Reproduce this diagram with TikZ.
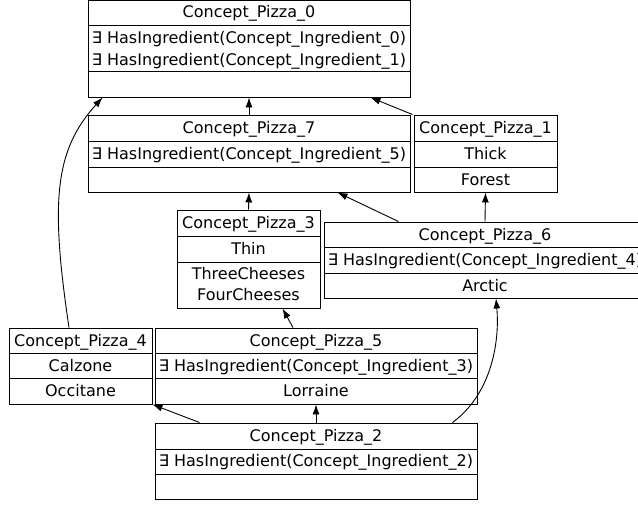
\documentclass[tikz,border=0pt]{standalone}
\usepackage{fontspec}
\setmainfont{DejaVu Sans}
\usetikzlibrary{arrows.meta}
\tikzset{record/.style={draw, rectangle, inner sep=0pt, line width=0.9pt}}
\tikzset{field/.style={inner sep=0pt, anchor=base, font=\fontsize{16}{19}\selectfont}}
\tikzset{rowline/.style={line width=0.9pt}}
\tikzset{isa/.style={line width=0.9pt, -{Latex[length=10pt,width=7pt]}}}

\begin{document}
\begin{tikzpicture}[x=1pt, y=-1pt]
  \useasboundingbox (0,0) rectangle (638,504);

  % Concept_Pizza_0
  \draw node[record, minimum width=322pt, minimum height=96.5pt] (p0) at (249,48.75) {};
  \draw node[field] (p0t) at (249,17.5) {Concept\_Pizza\_0};
  \draw node[field] (p0a) at (249,43.5) {∃ HasIngredient(Concept\_Ingredient\_0)};
  \draw node[field] (p0b) at (249,65.5) {∃ HasIngredient(Concept\_Ingredient\_1)};
  \draw[rowline] (p0.west |- 0,25) -- (p0.east |- 0,25);
  \draw[rowline] (p0.west |- 0,71) -- (p0.east |- 0,71);

  % Concept_Pizza_7
  \draw node[record, minimum width=322pt, minimum height=77pt] (p7) at (249,153.5) {};
  \draw node[field] (p7t) at (249,133) {Concept\_Pizza\_7};
  \draw node[field] (p7a) at (249,159) {∃ HasIngredient(Concept\_Ingredient\_5)};
  \draw[rowline] (p7.west |- 0,141) -- (p7.east |- 0,141);
  \draw[rowline] (p7.west |- 0,167) -- (p7.east |- 0,167);

  % Concept_Pizza_1
  \draw node[record, minimum width=143pt, minimum height=77pt] (p1) at (485.5,153.5) {};
  \draw node[field] (p1t) at (485.5,133) {Concept\_Pizza\_1};
  \draw node[field] (p1a) at (485.5,159) {Thick};
  \draw node[field] (p1b) at (485.5,185) {Forest};
  \draw[rowline] (p1.west |- 0,141) -- (p1.east |- 0,141);
  \draw[rowline] (p1.west |- 0,167) -- (p1.east |- 0,167);

  % Concept_Pizza_3
  \draw node[record, minimum width=143pt, minimum height=98pt] (p3) at (248.5,259) {};
  \draw node[field] (p3t) at (248.5,228) {Concept\_Pizza\_3};
  \draw node[field] (p3a) at (248.5,254) {Thin};
  \draw node[field] (p3b) at (248.5,279) {ThreeCheeses};
  \draw node[field] (p3c) at (248.5,300) {FourCheeses};
  \draw[rowline] (p3.west |- 0,236) -- (p3.east |- 0,236);
  \draw[rowline] (p3.west |- 0,262) -- (p3.east |- 0,262);

  % Concept_Pizza_6
  \draw node[record, minimum width=322pt, minimum height=76pt] (p6) at (485,260) {};
  \draw node[field] (p6t) at (485,240) {Concept\_Pizza\_6};
  \draw node[field] (p6a) at (485,265.5) {∃ HasIngredient(Concept\_Ingredient\_4)};
  \draw node[field] (p6b) at (485,291) {Arctic};
  \draw[rowline] (p6.west |- 0,247) -- (p6.east |- 0,247);
  \draw[rowline] (p6.west |- 0,273) -- (p6.east |- 0,273);

  % Concept_Pizza_4
  \draw node[record, minimum width=143pt, minimum height=76pt] (p4) at (80.5,366) {};
  \draw node[field] (p4t) at (80.5,346) {Concept\_Pizza\_4};
  \draw node[field] (p4a) at (80.5,371) {Calzone};
  \draw node[field] (p4b) at (80.5,396.5) {Occitane};
  \draw[rowline] (p4.west |- 0,353) -- (p4.east |- 0,353);
  \draw[rowline] (p4.west |- 0,378) -- (p4.east |- 0,378);

  % Concept_Pizza_5
  \draw node[record, minimum width=322pt, minimum height=76pt] (p5) at (316,366) {};
  \draw node[field] (p5t) at (316,346) {Concept\_Pizza\_5};
  \draw node[field] (p5a) at (316,371) {∃ HasIngredient(Concept\_Ingredient\_3)};
  \draw node[field] (p5b) at (316,396.5) {Lorraine};
  \draw[rowline] (p5.west |- 0,353) -- (p5.east |- 0,353);
  \draw[rowline] (p5.west |- 0,378) -- (p5.east |- 0,378);

  % Concept_Pizza_2
  \draw node[record, minimum width=322pt, minimum height=76pt] (p2) at (316,461) {};
  \draw node[field] (p2t) at (316,441) {Concept\_Pizza\_2};
  \draw node[field] (p2a) at (316,466.5) {∃ HasIngredient(Concept\_Ingredient\_2)};
  \draw[rowline] (p2.west |- 0,449) -- (p2.east |- 0,449);
  \draw[rowline] (p2.west |- 0,474) -- (p2.east |- 0,474);

  % subsumption arrows
  \draw[isa] (p7.north) -- (p0.south);
  \draw[isa] ([xshift=-1pt]p1.north west) -- ([xshift=-40pt]p0.south east);
  \draw[isa] ([xshift=-11.5pt]p4.north) .. controls (50,200) and (55,150) .. ([xshift=15pt]p0.south west);
  \draw[isa] (p3.north) -- (p7.south);
  \draw[isa] ([xshift=75pt]p6.north west) -- ([xshift=-73pt]p7.south east);
  \draw[isa] (p6.north) -- (p1.south);
  \draw[isa] ([xshift=-23pt]p5.north) -- ([xshift=34pt]p3.south);
  \draw[isa] ([xshift=45pt]p2.north west) -- (p4.south east);
  \draw[isa] (p2.north) -- (p5.south);
  \draw[isa] ([xshift=-25pt]p2.north east) .. controls (490,395) and (500,345) .. ([xshift=11pt]p6.south);

\end{tikzpicture}
\end{document}
